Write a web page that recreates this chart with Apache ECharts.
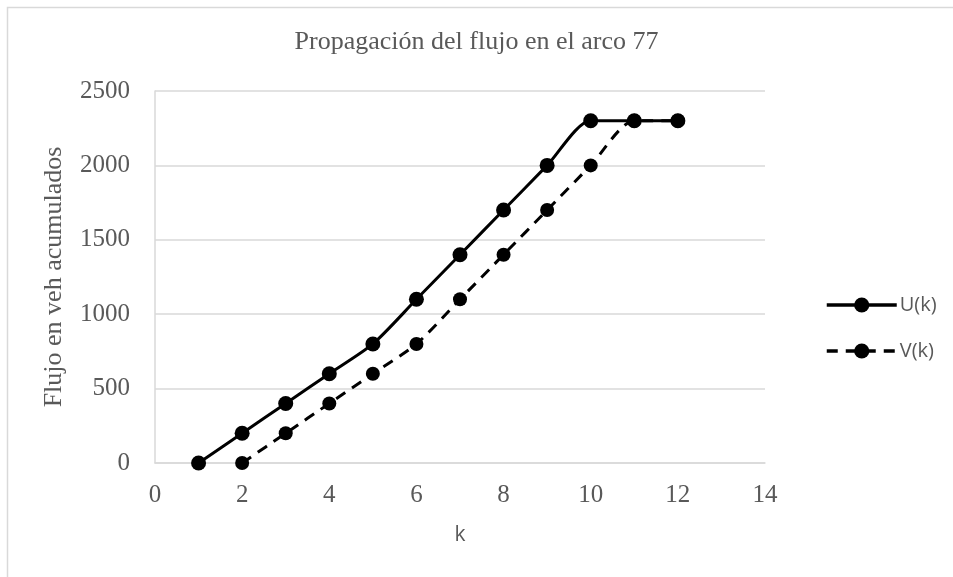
<!DOCTYPE html>
<html>
<head>
<meta charset="utf-8">
<script src="https://cdn.jsdelivr.net/npm/echarts@6/dist/echarts.min.js"></script>
<style>html,body{margin:0;padding:0;background:#fff;}#c{width:953px;height:577px;}</style>
</head>
<body>
<div id="c"></div>
<script>
const titleText = 'Propagación del flujo en el arco 77';
const xName = 'k';
const yName = 'Flujo en veh acumulados';
const kU = [1, 2, 3, 4, 5, 6, 7, 8, 9, 10, 11, 12];
const U = [0, 200, 400, 600, 800, 1100, 1400, 1700, 2000, 2300, 2300, 2300];
const kV = [2, 3, 4, 5, 6, 7, 8, 9, 10, 11, 12];
const V = [0, 200, 400, 600, 800, 1100, 1400, 1700, 2000, 2300, 2300];

const serif = '"Liberation Serif", "DejaVu Serif", serif';
const sans = '"Open Sans", "Liberation Sans", sans-serif';
const grey = '#595959';

const chart = echarts.init(document.getElementById('c'), null, {renderer: 'canvas'});
chart.setOption({
  animation: false,
  backgroundColor: '#fff',
  graphic: [{
    type: 'rect', left: 5, top: 5, silent: true,
    shape: {width: 1000, height: 700},
    style: {fill: 'none', stroke: '#d9d9d9', lineWidth: 1.5}
  }],
  title: {
    text: titleText, left: 'center', top: 24,
    textStyle: {fontFamily: serif, fontSize: 26, fontWeight: 'normal', color: grey}
  },
  legend: {
    orient: 'vertical', left: 820, top: 290, itemGap: 26,
    itemWidth: 70, itemHeight: 19,
    lineStyle: {width: 3.5},
    textStyle: {fontFamily: sans, fontSize: 20, color: grey, padding: [0, 0, 0, -2]},
    data: ['U(k)', 'V(k)']
  },
  grid: {left: 155, right: 188, top: 91, bottom: 114},
  xAxis: {
    type: 'value', min: 0, max: 14, interval: 2,
    name: xName, nameLocation: 'middle', nameGap: 62,
    nameTextStyle: {fontFamily: sans, fontSize: 21, color: grey},
    axisLine: {show: true, lineStyle: {color: '#d9d9d9', width: 1.5}},
    axisTick: {show: false},
    splitLine: {show: false},
    axisLabel: {fontFamily: serif, fontSize: 25, color: grey, margin: 20}
  },
  yAxis: {
    type: 'value', min: 0, max: 2500, interval: 500,
    name: yName, nameLocation: 'middle', nameGap: 88, nameRotate: 90,
    nameTextStyle: {fontFamily: serif, fontSize: 26, color: grey},
    axisLine: {show: true, lineStyle: {color: '#d9d9d9', width: 1.5}},
    axisTick: {show: false},
    splitLine: {show: true, lineStyle: {color: '#d9d9d9', width: 1.5}},
    axisLabel: {fontFamily: serif, fontSize: 25, color: grey, margin: 25,
      formatter: v => String(v)}
  },
  series: [
    {
      name: 'U(k)', type: 'line', smooth: 0.25,
      data: kU.map((k, i) => [k, U[i]]),
      symbol: 'circle', symbolSize: 15,
      itemStyle: {color: '#000'},
      lineStyle: {color: '#000', width: 3},
      z: 3
    },
    {
      name: 'V(k)', type: 'line', smooth: 0.25,
      data: kV.map((k, i) => [k, V[i]]),
      symbol: 'circle', symbolSize: 14,
      itemStyle: {color: '#000'},
      lineStyle: {color: '#000', width: 3, type: [11, 8]},
      z: 2
    }
  ]
});
</script>
</body>
</html>
